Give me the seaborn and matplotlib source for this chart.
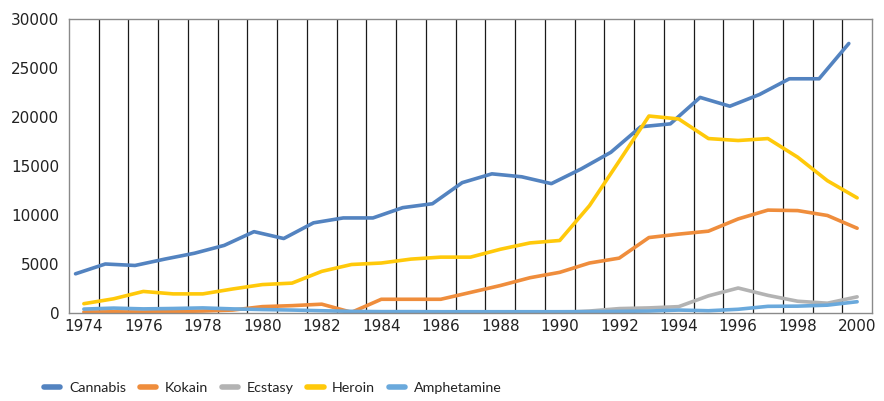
import numpy as np
import pandas as pd
import seaborn as sns
import matplotlib
matplotlib.use("Agg")
import matplotlib.pyplot as plt
from matplotlib.lines import Line2D

years = list(range(1974, 2001))
cannabis = [4000, 5000, 4850, 5500, 6100, 6900, 8300, 7600, 9200, 9700, 9700, 10750, 11150, 13300,
            14200, 13900, 13200, 14700, 16400, 19000, 19300, 22000, 21100, 22300, 23900, 23900, 27500]
kokain = [100, 120, 100, 150, 200, 300, 650, 750, 900, 70, 1400, 1400, 1400, 2100,
          2800, 3600, 4150, 5100, 5600, 7700, 8050, 8350, 9600, 10500, 10450, 9950, 8650]
ecstasy = [np.nan] * 16 + [50, 200, 450, 520, 650, 1750, 2550, 1800, 1200, 1000, 1650]
heroin = [950, 1450, 2200, 1950, 1950, 2450, 2900, 3050, 4250, 4950, 5100, 5500, 5700, 5700,
          6500, 7150, 7400, 10950, 15500, 20100, 19800, 17800, 17600, 17800, 15900, 13500, 11750]
amphetamine = [400, 500, 420, 460, 520, 420, 350, 300, 230, 170, 140, 140, 130, 130,
               130, 130, 130, 140, 170, 200, 300, 230, 380, 680, 700, 800, 1150]
y_ticks = [0, 5000, 10000, 15000, 20000, 25000, 30000]

series = {"Cannabis": cannabis, "Kokain": kokain, "Ecstasy": ecstasy,
          "Heroin": heroin, "Amphetamine": amphetamine}
colors = {"Cannabis": "#5383C0", "Kokain": "#EF8D3C", "Ecstasy": "#B3B3B3",
          "Heroin": "#FFC90A", "Amphetamine": "#6AA9DC"}
offsets = {"Cannabis": -0.28, "Kokain": 0.0, "Ecstasy": 0.0, "Heroin": 0.0, "Amphetamine": 0.0}

rows = []
for name, vals in series.items():
    for i, v in enumerate(vals):
        rows.append({"pos": i + offsets[name], "value": v, "drug": name})
df = pd.DataFrame(rows)

sns.set_style("white")
plt.rcParams["font.family"] = ["DejaVu Sans"]

fig = plt.figure(figsize=(8.84, 4.01), dpi=100)
ax = fig.add_axes([69 / 884, 1 - 313 / 401, (872 - 69) / 884, (313 - 19) / 401])

# vertical category gridlines
for k in range(len(years) - 1):
    ax.axvline(k + 0.5, color="#1a1a1a", lw=0.9, zorder=0)

sns.lineplot(data=df, x="pos", y="value", hue="drug", palette=colors,
             hue_order=list(series.keys()), lw=2.6, ax=ax, legend=False,
             sort=False, estimator=None)

ax.set_xlim(-0.5, len(years) - 0.5)
ax.set_ylim(0, 30000)
ax.set_xticks([i for i, y in enumerate(years) if y % 2 == 0])
ax.set_xticklabels([str(y) for y in years if y % 2 == 0])
ax.set_yticks(y_ticks)
ax.set_yticklabels([str(t) for t in y_ticks])
ax.tick_params(axis="both", length=0, labelsize=11, colors="#222222")
ax.tick_params(axis="x", pad=4)
ax.tick_params(axis="y", pad=7)
ax.set_xlabel("")
ax.set_ylabel("")
for s in ax.spines.values():
    s.set_color("#8a8a8a")
    s.set_linewidth(1.0)

handles = [Line2D([0], [0], color=colors[n], lw=4, solid_capstyle="round") for n in series]
leg = fig.legend(handles, list(series.keys()), loc="center left",
                 bbox_to_anchor=(44 / 884, 1 - 388 / 401), ncol=5, frameon=False,
                 prop={"family": ["Lato", "DejaVu Sans"], "size": 10.3},
                 handlelength=1.15, handletextpad=0.6, columnspacing=0.95,
                 borderpad=0, borderaxespad=0, labelcolor="#222222")

fig.savefig("out.png", dpi=100)
